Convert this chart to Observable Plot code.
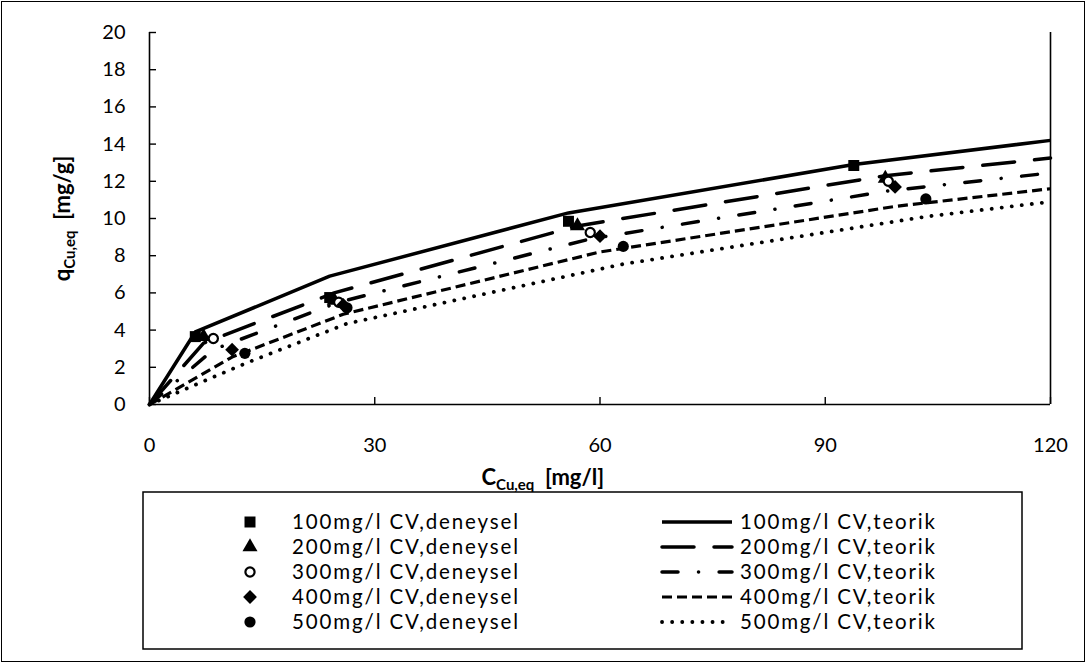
<!DOCTYPE html>
<html><head><meta charset="utf-8">
<script src="https://cdn.jsdelivr.net/npm/d3@7"></script>
<script src="https://cdn.jsdelivr.net/npm/@observablehq/plot@0.6"></script>
<style>
html,body{margin:0;padding:0;background:#fff;}
#chart{position:relative;width:1086px;height:663px;font-family:Lato,"Open Sans",sans-serif;overflow:hidden;background:#fff}
#frame{position:absolute;left:1px;top:1px;right:1px;bottom:1px;border:1.5px solid #000;pointer-events:none}
#plot{position:absolute;left:0;top:0}
.ttl{position:absolute;font-weight:bold;font-size:22px;white-space:nowrap;color:#000}
.ttl sub{font-size:15px;vertical-align:-5px;line-height:0}
</style></head>
<body><div id="chart"><div id="plot"></div>
<div class="ttl" id="xt">C<sub>Cu,eq</sub>&nbsp; [mg/l]</div>
<div class="ttl" id="yt">q<sub>Cu,eq</sub>&nbsp; [mg/g]</div>
<div id="frame"></div></div>
<script>
// ---- data ----
const xTicks = [0, 30, 60, 90, 120];
const yTicks = [0, 2, 4, 6, 8, 10, 12, 14, 16, 18, 20];
const seriesNames = ["100mg/l CV", "200mg/l CV", "300mg/l CV", "400mg/l CV", "500mg/l CV"];

// experimental (deneysel)
const exp100X = [6.1, 24.0, 55.8, 93.8];   const exp100Y = [3.65, 5.75, 9.85, 12.85];
const exp200X = [7.2, 24.6, 57.0, 98.0];   const exp200Y = [3.65, 5.6, 9.6, 12.15];
const exp300X = [8.5, 25.2, 58.7, 98.4];   const exp300Y = [3.55, 5.5, 9.25, 12.0];
const exp400X = [11.0, 25.8, 60.0, 99.3];  const exp400Y = [2.95, 5.35, 9.05, 11.7];
const exp500X = [12.7, 26.3, 63.1, 103.4]; const exp500Y = [2.75, 5.2, 8.5, 11.05];

// theoretical (teorik)
const teo100X = [0, 6.1, 24.0, 55.8, 93.8, 120];  const teo100Y = [0, 3.9, 6.9, 10.3, 12.9, 14.2];
const teo200X = [0, 7.2, 24.6, 57.0, 98.0, 120];  const teo200Y = [0, 3.3, 6.0, 9.6, 12.3, 13.25];
const teo300X = [0, 8.5, 25.2, 58.7, 98.7, 120];  const teo300Y = [0, 2.95, 5.5, 8.9, 11.5, 12.45];
const teo400X = [0, 11.0, 25.8, 60.0, 99.3, 120]; const teo400Y = [0, 2.55, 4.85, 8.2, 10.65, 11.6];
const teo500X = [0, 12.7, 26.3, 63.1, 103.4, 120];const teo500Y = [0, 2.2, 4.35, 7.55, 10.1, 10.9];

// ---- build tables ----
const expXs = [exp100X, exp200X, exp300X, exp400X, exp500X];
const expYs = [exp100Y, exp200Y, exp300Y, exp400Y, exp500Y];
const teoXs = [teo100X, teo200X, teo300X, teo400X, teo500X];
const teoYs = [teo100Y, teo200Y, teo300Y, teo400Y, teo500Y];
const expData = seriesNames.map((s, i) => expXs[i].map((x, j) => ({s, x, y: expYs[i][j]})));
const teoData = seriesNames.map((s, i) => teoXs[i].map((x, j) => ({s, x, y: teoYs[i][j]})));

// styles
const symbols = [
  {symbol: "square", d3s: d3.symbolSquare, fill: "black", stroke: "none", r: 6.2},
  {symbol: "triangle", d3s: d3.symbolTriangle, fill: "black", stroke: "none", r: 5.6},
  {symbol: "circle", d3s: d3.symbolCircle, fill: "white", stroke: "black", r: 4.6, strokeWidth: 2.2},
  {symbol: "diamond2", d3s: d3.symbolDiamond2, fill: "black", stroke: "none", r: 6.2},
  {symbol: "circle", d3s: d3.symbolCircle, fill: "black", stroke: "none", r: 5.6}
];
const lineStyles = [
  {dash: null, cap: "butt", w: 3.5},
  {dash: "32,20", cap: "round", w: 3.5},
  {dash: "16,20.5,0.1,20.5", cap: "round", w: 3.5},
  {dash: "10,5", cap: "butt", w: 3.2},
  {dash: "0.1,10", cap: "round", w: 3.8}
];

const W = 1086, H = 490, mL = 149, mR = 36, mT = 32, mB = 86;
const plotW = W - mL - mR, plotH = H - mT - mB;

const marks = [
  Plot.ruleX([0], {stroke: "black", strokeWidth: 1.6}),
  Plot.ruleY([0], {stroke: "black", strokeWidth: 1.6}),
  Plot.ruleX([120], {stroke: "black", strokeWidth: 1.6}),
  Plot.tickY(yTicks, {y: d => d, stroke: "black", strokeWidth: 1.4, insetRight: plotW - 7}),
  Plot.tickX(xTicks, {x: d => d, stroke: "black", strokeWidth: 1.4, insetTop: plotH - 7}),
  Plot.axisY(yTicks, {tickSize: 0, tickPadding: 24, fontSize: 20, label: null}),
  Plot.axisX(xTicks, {tickSize: 0, tickPadding: 33, fontSize: 20, label: null})
];
teoData.forEach((d, i) => {
  const st = lineStyles[i];
  marks.push(Plot.line(d, {x: "x", y: "y", stroke: "black", strokeWidth: st.w,
    strokeDasharray: st.dash, strokeLinecap: st.cap, strokeLinejoin: "round"}));
});
expData.forEach((d, i) => {
  const sy = symbols[i];
  marks.push(Plot.dot(d, {x: "x", y: "y", symbol: () => sy.symbol, r: sy.r, fill: sy.fill,
    stroke: sy.stroke, strokeWidth: sy.strokeWidth || 1}));
});

const chart = Plot.plot({
  width: W, height: H, marginLeft: mL, marginRight: mR, marginTop: mT, marginBottom: mB,
  style: {fontFamily: "Lato, 'Open Sans', sans-serif", color: "black", background: "transparent", overflow: "visible"},
  x: {domain: [0, 120]}, y: {domain: [0, 20]},
  symbol: {type: "identity"},
  marks
});
document.getElementById("plot").appendChild(chart);

// axis titles
const xt = document.getElementById("xt");
xt.style.left = (543 - xt.offsetWidth / 2) + "px";
xt.style.top = (476 - xt.offsetHeight / 2) + "px";
const yt = document.getElementById("yt");
yt.style.left = (62 - yt.offsetWidth / 2) + "px";
yt.style.top = (218 - yt.offsetHeight / 2) + "px";
yt.style.transform = "rotate(-90deg)";

// legend (drawn below the plot)
const lg = {left: 143, top: 492, width: 879, height: 157, row0: 30, rowH: 25,
            symX: 250, textL: 292, lineX1: 662, lineX2: 732, textR: 740, fontSize: 20.5,
            lenL: 226, lenR: 195};
const svg = d3.select("#chart").append("svg").attr("id", "legend")
  .attr("width", W).attr("height", 663)
  .style("position", "absolute").style("left", "0px").style("top", "0px");
svg.append("rect").attr("x", lg.left).attr("y", lg.top).attr("width", lg.width).attr("height", lg.height)
  .attr("fill", "white").attr("stroke", "black").attr("stroke-width", 1.5);
seriesNames.forEach((s, i) => {
  const cy = lg.top + lg.row0 + i * lg.rowH;
  const sy = symbols[i];
  svg.append("path").attr("d", d3.symbol(sy.d3s, Math.PI * sy.r * sy.r)())
    .attr("transform", `translate(${lg.symX},${cy})`)
    .attr("fill", sy.fill).attr("stroke", sy.stroke).attr("stroke-width", sy.strokeWidth || 1);
  svg.append("text").attr("x", lg.textL).attr("y", cy).attr("dy", "0.35em")
    .attr("textLength", lg.lenL).attr("lengthAdjust", "spacing")
    .attr("font-size", lg.fontSize).attr("font-family", "Lato, 'Open Sans', sans-serif").text(s + ",deneysel");
  const st = lineStyles[i];
  svg.append("line").attr("x1", lg.lineX1).attr("x2", lg.lineX2).attr("y1", cy).attr("y2", cy)
    .attr("stroke", "black").attr("stroke-width", st.w).attr("stroke-dasharray", st.dash)
    .attr("stroke-linecap", st.cap);
  svg.append("text").attr("x", lg.textR).attr("y", cy).attr("dy", "0.35em")
    .attr("textLength", lg.lenR).attr("lengthAdjust", "spacing")
    .attr("font-size", lg.fontSize).attr("font-family", "Lato, 'Open Sans', sans-serif").text(s + ",teorik");
});
</script></body></html>
